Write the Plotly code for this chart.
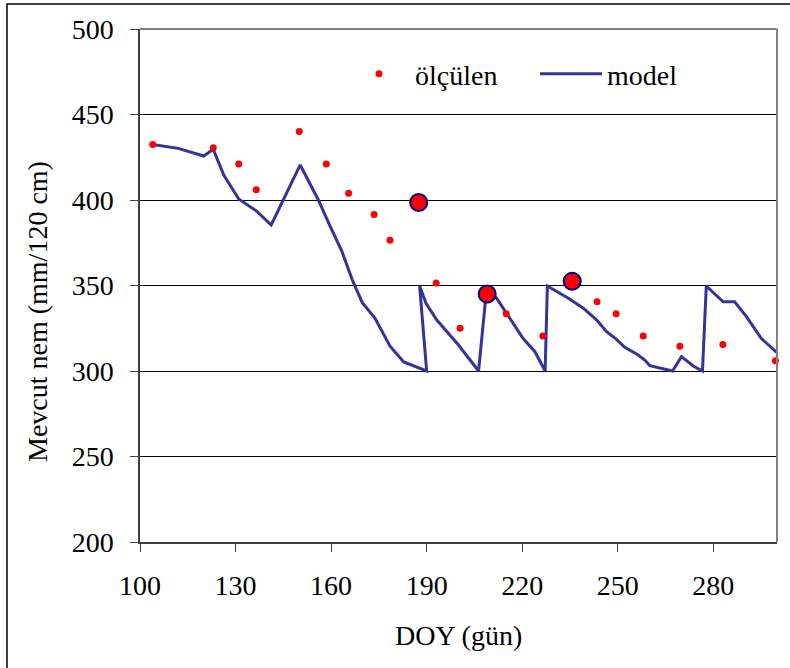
import plotly.graph_objects as go

# measured soil water (small dots)
olc_doy = [104, 123, 131, 136.5, 150, 158.5, 165.5, 173.5, 178.5, 193, 200.5,
           215, 226.5, 243.5, 249.5, 258, 269.5, 283, 299.5]
olc_val = [432.5, 430.5, 421, 406, 440, 421, 404, 391.5, 376.5, 351.5, 325,
           333.5, 320.5, 340.5, 333.5, 320.5, 314.5, 315.5, 306]

# highlighted measured points (large markers)
big_doy = [187.5, 209, 235.7]
big_val = [398.5, 345, 352.5]

# model line
model_doy = [104, 112, 120, 123, 126.3, 131, 136.8, 141.2, 150.3, 156, 159.5,
             163.4, 166.6, 169.8, 173.8, 178.5, 182.8, 190, 187.8, 189.8, 193.2,
             200, 206.3, 208.9, 212, 216.2, 220.3, 224, 227.2, 227.9, 234.5,
             239.2, 243.4, 246.5, 249.6, 252.2, 255.9, 258.5, 260.1, 267.2, 270,
             273.7, 276.6, 277.8, 283.1, 286.7, 290.4, 295.1, 300]
model_val = [432.5, 430.2, 425.7, 429.6, 414.6, 400.6, 393.2, 385.4, 420.5, 400,
             385.4, 370, 353.5, 340, 330.8, 314.5, 305.3, 300, 349.7, 339.6,
             329.8, 315.2, 300, 349.5, 342.5, 330.8, 319, 311.3, 300, 349.7,
             342.5, 336.7, 329.8, 323, 318.5, 313.9, 310, 306.4, 303.1, 300,
             308.4, 302.9, 300, 349.7, 340.5, 340.5, 331.8, 319, 310.7]

x_ticks = [100, 130, 160, 190, 220, 250, 280]
y_ticks = [200, 250, 300, 350, 400, 450, 500]

FONT = "Liberation Serif"
W, H = 790, 668
L, R, T, B = 140, 13, 29, 126
PW, PH = W - L - R, H - T - B


def px(x):
    return (x - L) / PW


def py(y):
    return (H - B - y) / PH


fig = go.Figure()
fig.add_trace(go.Scatter(
    x=model_doy, y=model_val, mode="lines", name="model",
    line=dict(color="#333399", width=3), cliponaxis=False))
fig.add_trace(go.Scatter(
    x=olc_doy, y=olc_val, mode="markers", name="ölçülen",
    marker=dict(color="#ff0000", size=7), cliponaxis=False))
fig.add_trace(go.Scatter(
    x=big_doy, y=big_val, mode="markers", name="ölçülen", showlegend=False,
    marker=dict(color="#ff0000", size=17, line=dict(color="#000080", width=2)),
    cliponaxis=False))

fig.update_layout(
    width=W, height=H,
    margin=dict(l=L, r=R, t=T, b=B, pad=0),
    paper_bgcolor="white", plot_bgcolor="white",
    font=dict(family=FONT, size=28, color="black"),
    showlegend=True,
    legend=dict(orientation="h", x=px(343), y=py(74), xanchor="left",
                yanchor="middle", bgcolor="rgba(0,0,0,0)",
                font=dict(family=FONT, size=28), traceorder="reversed",
                itemwidth=62, entrywidth=115, entrywidthmode="pixels"),
    xaxis=dict(range=[100, 300], tickvals=x_ticks, showgrid=False,
               showline=True, linecolor="#404040", linewidth=1.5,
               ticks="outside", ticklen=8, tickcolor="#404040", tickwidth=1,
               zeroline=False, ticklabelstandoff=10),
    yaxis=dict(range=[200, 500], tickvals=y_ticks, showgrid=True,
               gridcolor="black", gridwidth=1,
               showline=True, linecolor="#404040", linewidth=1.5,
               ticks="outside", ticklen=8, tickcolor="#404040", tickwidth=1,
               zeroline=False, ticklabelstandoff=11),
    annotations=[
        dict(text="DOY (gün)", xref="paper", yref="paper", x=0.5, y=py(636),
             xanchor="center", yanchor="middle", showarrow=False,
             font=dict(family=FONT, size=28)),
        dict(text="Mevcut nem (mm/120 cm)", xref="paper", yref="paper",
             x=px(37), y=py(312), xanchor="center", yanchor="middle",
             textangle=-90, showarrow=False, font=dict(family=FONT, size=28)),
    ],
    shapes=[
        # plot-area top and right frame (gray)
        dict(type="line", xref="paper", yref="paper", x0=0, x1=1, y0=1, y1=1,
             line=dict(color="#808080", width=2)),
        dict(type="line", xref="paper", yref="paper", x0=1, x1=1, y0=0, y1=1,
             line=dict(color="#808080", width=2)),
        # outer chart frame
        dict(type="rect", xref="paper", yref="paper", x0=px(7), x1=px(800),
             y0=py(680), y1=py(4), line=dict(color="black", width=1.5)),
    ],
)

fig.write_html("out.html",
               config={"displayModeBar": False},
               post_script="document.body.style.margin='0';"
                           "document.body.style.overflow='hidden';")
